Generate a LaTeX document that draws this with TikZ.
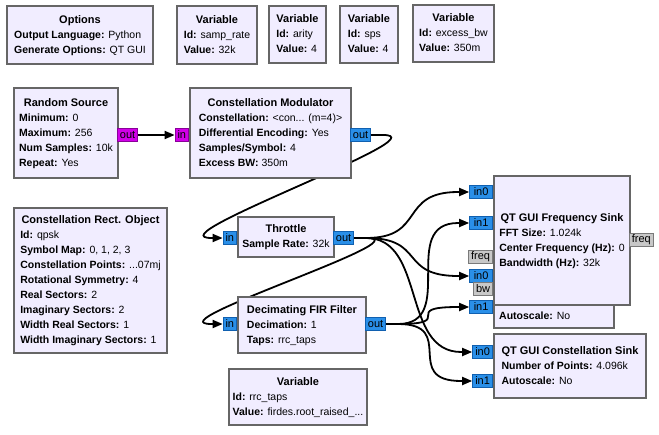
\documentclass[tikz,border=0pt]{standalone}
\usepackage{fontspec}
\setmainfont{Liberation Sans}
\usetikzlibrary{arrows.meta, backgrounds, calc}

\definecolor{blockfill}{HTML}{F1EDFF}
\definecolor{blockedge}{HTML}{666666}
\definecolor{cplxfill}{HTML}{2A8FE8}
\definecolor{cplxedge}{HTML}{1060B0}
\definecolor{bytefill}{HTML}{D000E8}
\definecolor{byteedge}{HTML}{8A0099}
\definecolor{msgfill}{HTML}{C8C8C8}
\definecolor{msgedge}{HTML}{7A7A7A}

\newcommand{\grctitle}[1]{\multicolumn{1}{@{}c@{}}{\fontsize{11}{15}\selectfont\bfseries #1}}
\newcommand{\grcparam}[2]{\textbf{#1:} #2}

\tikzset{
  block/.style={draw=blockedge, line width=2pt, fill=blockfill, inner sep=0pt,
    anchor=north west, font=\fontsize{10.5}{15}\selectfont},
  port/.style={draw=cplxedge, line width=0.8pt, fill=cplxfill, inner xsep=2.5pt,
    inner ysep=0pt, minimum height=13pt, font=\fontsize{11}{12}\selectfont},
  byteport/.style={port, draw=byteedge, fill=bytefill},
  msgport/.style={port, draw=msgedge, fill=msgfill},
  wire/.style={line width=1.8pt, -{Triangle[length=10pt,width=8pt]}},
}

\begin{document}
\begin{tikzpicture}[x=1pt, y=-1pt]
    \useasboundingbox (0,0) rectangle (659,434);

    % Variaveis e opcoes
    \node[block, minimum width=146pt, minimum height=58pt] (options) at (6,5) {%
      \begin{tabular}{@{}l@{}}\grctitle{Options}\\
      \grcparam{Output Language}{Python}\\
      \grcparam{Generate Options}{QT GUI}\end{tabular}};
    \node[block, minimum width=80pt, minimum height=58pt] (samprate) at (176,5) {%
      \begin{tabular}{@{}l@{}}\grctitle{Variable}\\
      \grcparam{Id}{samp\_rate}\\
      \grcparam{Value}{32k}\end{tabular}};
    \node[block, minimum width=57pt, minimum height=57pt] (arity) at (268,5) {%
      \begin{tabular}{@{}l@{}}\grctitle{Variable}\\
      \grcparam{Id}{arity}\\
      \grcparam{Value}{4}\end{tabular}};
    \node[block, minimum width=58pt, minimum height=57pt] (sps) at (339,5) {%
      \begin{tabular}{@{}l@{}}\grctitle{Variable}\\
      \grcparam{Id}{sps}\\
      \grcparam{Value}{4}\end{tabular}};
    \node[block, minimum width=81pt, minimum height=57pt] (excessbw) at (412,4) {%
      \begin{tabular}{@{}l@{}}\grctitle{Variable}\\
      \grcparam{Id}{excess\_bw}\\
      \grcparam{Value}{350m}\end{tabular}};
    \node[block, minimum width=138pt, minimum height=56pt] (rrctaps) at (228,368) {%
      \begin{tabular}{@{}l@{}}\grctitle{Variable}\\
      \grcparam{Id}{rrc\_taps}\\
      \grcparam{Value}{firdes.root\_raised\_...}\end{tabular}};

    % Fonte e modulador
    \node[block, minimum width=104pt, minimum height=90pt] (rnd) at (13,87) {%
      \begin{tabular}{@{}l@{}}\grctitle{Random Source}\\
      \grcparam{Minimum}{0}\\
      \grcparam{Maximum}{256}\\
      \grcparam{Num Samples}{10k}\\
      \grcparam{Repeat}{Yes}\end{tabular}};
    \node[byteport, anchor=west] (rnd-out) at (117,135) {out};

    \node[block, minimum width=161pt, minimum height=90pt] (mod) at (189,87) {%
      \begin{tabular}{@{}l@{}}\grctitle{Constellation Modulator}\\
      \grcparam{Constellation}{<con... (m=4)>}\\
      \grcparam{Differential Encoding}{Yes}\\
      \grcparam{Samples/Symbol}{4}\\
      \grcparam{Excess BW}{350m}\end{tabular}};
    \node[byteport, anchor=east] (mod-in) at (189,135) {in};
    \node[port, anchor=west] (mod-out) at (350,135) {out};

    \node[block, minimum width=153pt, minimum height=145pt] (rect) at (13,207) {%
      \begin{tabular}{@{}l@{}}\grctitle{Constellation Rect. Object}\\
      \grcparam{Id}{qpsk}\\
      \grcparam{Symbol Map}{0, 1, 2, 3}\\
      \grcparam{Constellation Points}{...07mj}\\
      \grcparam{Rotational Symmetry}{4}\\
      \grcparam{Real Sectors}{2}\\
      \grcparam{Imaginary Sectors}{2}\\
      \grcparam{Width Real Sectors}{1}\\
      \grcparam{Width Imaginary Sectors}{1}\end{tabular}};

    % Throttle e filtro
    \node[block, minimum width=96pt, minimum height=40pt] (thr) at (237,216) {%
      \begin{tabular}{@{}l@{}}\grctitle{Throttle}\\
      \grcparam{Sample Rate}{32k}\end{tabular}};
    \node[port, anchor=east] (thr-in) at (237,238) {in};
    \node[port, anchor=west] (thr-out) at (333,238) {out};

    \node[block, minimum width=128pt, minimum height=56pt] (fir) at (237,296) {%
      \begin{tabular}{@{}l@{}}\grctitle{Decimating FIR Filter}\\
      \grcparam{Decimation}{1}\\
      \grcparam{Taps}{rrc\_taps}\end{tabular}};
    \node[port, anchor=east] (fir-in) at (237,324) {in};
    \node[port, anchor=west] (fir-out) at (365,324) {out};

    % Sink escondido por baixo do Frequency Sink
    \node[block, minimum width=120pt, minimum height=70pt] (tsink) at (493,257) {};
    \node[anchor=west, inner sep=0pt, font=\fontsize{10.5}{15}\selectfont] (tsink-auto) at (499,316) {\grcparam{Autoscale}{No}};
    \node[port, anchor=east, minimum width=23pt] (ts-in0) at (493,276) {in0};
    \node[msgport, anchor=east] (ts-bw) at (493,289) {bw};
    \node[port, anchor=east, minimum width=23pt] (ts-in1) at (493,307) {in1};

    \node[block, minimum width=136pt, minimum height=129pt] (fsink) at (493,175) {%
      \begin{tabular}{@{}l@{}}\grctitle{QT GUI Frequency Sink}\\
      \grcparam{FFT Size}{1.024k}\\
      \grcparam{Center Frequency (Hz)}{0}\\
      \grcparam{Bandwidth (Hz)}{32k}\end{tabular}};
    \node[port, anchor=east, minimum width=23pt] (fs-in0) at (493,192) {in0};
    \node[port, anchor=east, minimum width=23pt] (fs-in1) at (493,223) {in1};
    \node[msgport, anchor=east] (fs-freqin) at (493,257) {freq};
    \node[msgport, anchor=west] (fs-freqout) at (629,240) {freq};

    \node[block, minimum width=152pt, minimum height=64pt] (csink) at (493,333) {%
      \begin{tabular}{@{}l@{}}\grctitle{QT GUI Constellation Sink}\\
      \grcparam{Number of Points}{4.096k}\\
      \grcparam{Autoscale}{No}\end{tabular}};
    \node[port, anchor=east, minimum width=20pt] (cs-in0) at (493,352) {in0};
    \node[port, anchor=east, minimum width=20pt] (cs-in1) at (493,381) {in1};

    % Conexoes (por baixo dos blocos)
    \begin{scope}[on background layer]
    \fill[white] (0,0) rectangle (659,434);
    \draw[wire] (rnd-out.east) -- (mod-in.west);
    \draw[wire] (mod-out.east) -- ++(12,0) .. controls +(60,0) and +(-60,0) .. ([xshift=-11pt]thr-in.west) -- (thr-in.west);
    \draw[wire] (thr-out.east) -- ++(12,0) .. controls +(60,0) and +(-60,0) .. ([xshift=-11pt]fs-in0.west) -- (fs-in0.west);
    \draw[wire] (thr-out.east) -- ++(12,0) .. controls +(60,0) and +(-60,0) .. ([xshift=-11pt]ts-in0.west) -- (ts-in0.west);
    \draw[wire] (thr-out.east) -- ++(12,0) .. controls +(60,0) and +(-60,0) .. ([xshift=-11pt]cs-in0.west) -- (cs-in0.west);
    \draw[wire] (thr-out.east) -- ++(12,0) .. controls +(60,0) and +(-60,0) .. ([xshift=-11pt]fir-in.west) -- (fir-in.west);
    \draw[wire] (fir-out.east) -- ++(12,0) .. controls +(60,0) and +(-60,0) .. ([xshift=-11pt]fs-in1.west) -- (fs-in1.west);
    \draw[wire] (fir-out.east) -- ++(12,0) .. controls +(60,0) and +(-60,0) .. ([xshift=-11pt]ts-in1.west) -- (ts-in1.west);
    \draw[wire] (fir-out.east) -- ++(12,0) .. controls +(60,0) and +(-60,0) .. ([xshift=-11pt]cs-in1.west) -- (cs-in1.west);
    \end{scope}

\end{tikzpicture}
\end{document}
